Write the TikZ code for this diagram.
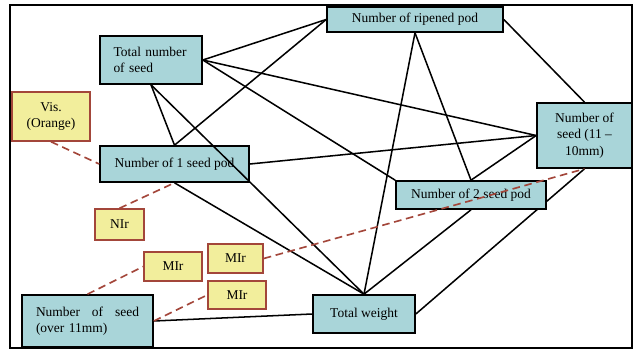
\documentclass[tikz,border=0pt]{standalone}
\usepackage{fontspec}
\setmainfont{Liberation Serif}
\usepackage{tikz}
\usepackage{xcolor}
\usetikzlibrary{positioning}
\definecolor{traitblue}{HTML}{A9D5D9}
\definecolor{indexyellow}{HTML}{F2EE9C}
\definecolor{indexred}{HTML}{A3463A}
\tikzstyle{trait} = [rectangle, draw=black, line width=1.4pt, fill=traitblue, inner sep=2pt, font=\fontsize{11.5}{14}\selectfont]
\tikzstyle{index} = [rectangle, draw=indexred, line width=1.3pt, fill=indexyellow, inner sep=2pt, minimum height=0.87cm, font=\fontsize{11.5}{14}\selectfont]
\tikzstyle{link} = [line width=1.3pt]
\tikzstyle{dlink} = [line width=1.4pt, draw=indexred, dash pattern=on 6.5pt off 4pt]

\begin{document}
\begin{tikzpicture}[node distance=2cm]
        \useasboundingbox (0,0) rectangle (19.05,-10.5);
        \draw [line width=0.9pt] (0.3,-0.15) rectangle (18.96,-10.44);

        \node (totalSeed) [trait, minimum width=3.06cm, minimum height=1.44cm, text width=2.25cm, align=left] at (4.53,-1.80) {Total number\\of seed};
        \node (onePod) [trait, below of=totalSeed, xshift=0.705cm, yshift=-1.12cm, minimum width=4.47cm, minimum height=1.08cm] {Number of 1 seed pod};
        \node (visOrange) [index, left of=totalSeed, xshift=-1cm, yshift=-1.695cm, minimum width=2.34cm, minimum height=1.47cm, align=center] {Vis.\\(Orange)};
        \node (ripenedPod) [trait, right of=totalSeed, xshift=5.92cm, yshift=1.215cm, minimum width=5.28cm, minimum height=0.75cm] {Number of ripened pod};
        \node (seedMid) [trait, below of=ripenedPod, xshift=5.085cm, yshift=-1.48cm, minimum width=2.85cm, minimum height=1.95cm, align=center] {Number of\\seed (11 –\\10mm)};
        \node (nIr) [index, below of=onePod, xshift=-1.65cm, yshift=0.185cm, minimum width=1.47cm, minimum height=0.93cm] {NIr};
        \node (mIrA) [index, below of=nIr, xshift=1.605cm, yshift=0.74cm, minimum width=1.74cm] {MIr};
        \node (mIrB) [index, right of=mIrA, xshift=-0.125cm, yshift=0.24cm, minimum width=1.65cm] {MIr};
        \node (mIrC) [index, below of=mIrB, xshift=0.045cm, yshift=0.905cm, minimum width=1.74cm, minimum height=0.84cm] {MIr};
        \node (seedBig) [trait, below of=nIr, xshift=-0.96cm, yshift=-0.895cm, minimum width=3.93cm, minimum height=1.56cm, text width=3.09cm, align=left] {Number \hfill of \hfill seed\\(over 11mm)};
        \node (totalWeight) [trait, right of=mIrC, xshift=1.81cm, yshift=-0.57cm, minimum width=3.06cm, minimum height=1.14cm] {Total weight};

        % hidden behind the 2 seed pod box
        \draw [link] (seedMid.south) -- (totalWeight.east);
        \node (twoPod) [trait, below of=ripenedPod, xshift=1.68cm, yshift=-3.265cm, minimum width=4.5cm, minimum height=0.84cm] {Number of 2 seed pod};

        \draw [link] (totalSeed.east) -- (ripenedPod.west);
        \draw [link] (totalSeed.east) -- (seedMid.west);
        \draw [link] (totalSeed.east) -- (twoPod.north west);
        \draw [link] (totalSeed.south) -- (onePod.north);
        \draw [link] (totalSeed.south) -- (totalWeight.north);
        \draw [link] (onePod.north) -- (ripenedPod.west);
        \draw [link] (onePod.east) -- (seedMid.west);
        \draw [link] (onePod.south) -- (totalWeight.north);
        \draw [link] (ripenedPod.south) -- (totalWeight.north);
        \draw [link] (ripenedPod.south) -- (twoPod.north);
        \draw [link] (ripenedPod.east) -- (seedMid.north);
        \draw [link] (seedMid.west) -- (twoPod.north);
        \draw [link] (twoPod.south) -- (totalWeight.north);
        \draw [link] (seedBig.east) -- (totalWeight.west);

        \draw [dlink] (visOrange.south) -- (onePod.west);
        \draw [dlink] (nIr.north) -- (onePod.south);
        \draw [dlink] (seedBig.north) -- (mIrA.west);
        \draw [dlink] (seedBig.east) -- (mIrC.west);
        \draw [dlink] (mIrB.east) -- (seedMid.south);
    \end{tikzpicture}
\end{document}
